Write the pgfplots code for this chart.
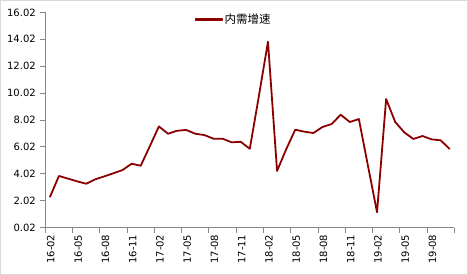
\documentclass[border=0pt]{standalone}
\usepackage{pgfplots}
\pgfplotsset{compat=1.18}
\usepackage{fontspec}
\setmainfont{DejaVu Sans}
\newfontfamily\cjk{Noto Sans CJK SC}
\definecolor{serie}{RGB}{140,0,0}
\definecolor{axg}{RGB}{134,134,134}
\definecolor{frameg}{RGB}{217,217,217}
\pgfplotstableread{
i v
0 2.28
1 3.86
2 3.66
3 3.46
4 3.28
5 3.61
6 3.83
7 4.06
8 4.30
9 4.77
10 4.62
11 6.07
12 7.54
13 7.00
14 7.22
15 7.28
16 7.00
17 6.90
18 6.63
19 6.63
20 6.36
21 6.40
22 5.88
23 9.80
24 13.84
25 4.23
26 5.84
27 7.30
28 7.15
29 7.05
30 7.50
31 7.72
32 8.41
33 7.87
34 8.09
35 4.62
36 1.16
37 9.58
38 7.87
39 7.10
40 6.61
41 6.83
42 6.58
43 6.51
44 5.86
}\datatable
\begin{document}
\begin{tikzpicture}[x=1pt,y=1pt]
\begin{axis}[
  name=ax,
  scale only axis, width=409pt, height=215.2pt,
  xmin=-0.5, xmax=44.5, ymin=0.02, ymax=16.02,
  axis x line*=bottom, axis y line*=left,
  axis line style={axg, line width=0.8pt, -},
  tick align=outside,
  major tick length=5pt, minor tick length=5pt,
  xtick={0,3,...,42},
  xticklabels={16-02,16-05,16-08,16-11,17-02,17-05,17-08,17-11,18-02,18-05,18-08,18-11,19-02,19-05,19-08},
  minor xtick={-0.5,2.5,...,44.5},
  major x tick style={draw=none},
  minor x tick style={axg, line width=0.8pt},
  ytick={0.02,2.02,4.02,6.02,8.02,10.02,12.02,14.02,16.02},
  yticklabels={0.02,2.02,4.02,6.02,8.02,10.02,12.02,14.02,16.02},
  major y tick style={axg, line width=0.8pt},
  yticklabel style={font=\fontsize{10}{12}\selectfont, xshift=-1pt},
  xticklabel style={font=\fontsize{10}{12}\selectfont, rotate=90, anchor=east, xshift=1.5pt, yshift=-1pt},
  legend style={draw=none, at={(rel axis cs:0.461,0.967)}, anchor=center,
    font=\cjk\fontsize{11.5}{13}\selectfont},
  legend image code/.code={\fill[serie] (0pt,-1pt) rectangle (26pt,1pt);},
  clip=false,
]
\addplot[serie, line width=1.8pt, line join=round] table[x=i, y=v] {\datatable};
\addlegendentry{内需增速}
\end{axis}
\draw[frameg, line width=1pt] ([shift={(-44.8pt,-46.9pt)}]ax.south west) rectangle ([shift={(422.2pt,227.1pt)}]ax.south west);
\end{tikzpicture}
\end{document}
